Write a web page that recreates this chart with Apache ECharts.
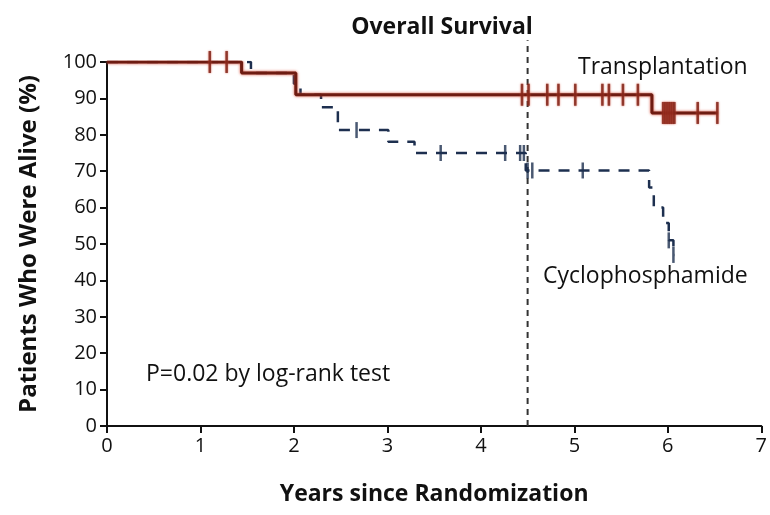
<!DOCTYPE html>
<html>
<head>
<meta charset="utf-8">
<script src="https://cdn.jsdelivr.net/npm/echarts@6/dist/echarts.min.js"></script>
<style>
  html, body { margin: 0; padding: 0; background: #fff; }
  #main { width: 770px; height: 515px; }
</style>
</head>
<body>
<div id="main"></div>
<script>
// Kaplan-Meier steps (years, % alive)
var txTimes = [0, 1.44, 2.02, 5.83];
var txSurv = [100, 97, 91, 86];
var txEnd = 6.53;
var txCensor = [1.1, 1.28, 4.44, 4.51, 4.71, 4.83, 5.01, 5.3, 5.37, 5.52, 5.68,
  5.95, 5.97, 5.99, 6.01, 6.03, 6.05, 6.07, 6.32, 6.53];

var cyTimes = [0, 1.54, 2.0, 2.07, 2.29, 2.47, 3.01, 3.29, 4.48, 5.8, 5.85, 5.95, 6.01, 6.06];
var cySurv = [100, 97, 94, 91, 87.6, 81.3, 78.1, 75, 70.2, 65.5, 60, 55.8, 51, 47];
var cyEnd = 6.07;
var cyCensor = [2.67, 3.57, 4.26, 4.42, 4.46, 4.5, 4.55, 5.09, 6.01, 6.06];

var cutoff = 4.5; // dashed reference line
var xTicks = [0, 1, 2, 3, 4, 5, 6, 7];
var yTicks = [0, 10, 20, 30, 40, 50, 60, 70, 80, 90, 100];

var FONT = "'Open Sans', 'DejaVu Sans', sans-serif";

function stepData(times, surv, end) {
  var d = [];
  for (var i = 0; i < times.length; i++) d.push([times[i], surv[i]]);
  d.push([end, surv[surv.length - 1]]);
  return d;
}
function survAt(times, surv, t) {
  var v = surv[0];
  for (var i = 0; i < times.length; i++) {
    if (times[i] <= t) v = surv[i];
  }
  return v;
}
function censorData(times, surv, list) {
  return list.map(function (t) { return [t, survAt(times, surv, t)]; });
}

var myChart = echarts.init(document.getElementById("main"), null, { renderer: "canvas" });

var axisCommon = {
  axisLine: { show: true, onZero: false, lineStyle: { color: "#111", width: 2 } },
  axisTick: { show: true, length: 7, lineStyle: { color: "#111", width: 2 } },
  splitLine: { show: false }
};
var nameStyle = { fontFamily: FONT, fontSize: 23, fontWeight: "bold", color: "#111" };

var option = {
  backgroundColor: "#fff",
  animation: false,
  title: {
    text: "Overall Survival",
    left: 437,
    top: 11,
    textAlign: "center",
    textStyle: { fontFamily: FONT, fontSize: 23, fontWeight: "bold", color: "#111" }
  },
  grid: { left: 107, right: 5, top: 62, bottom: 89 },
  xAxis: Object.assign({
    type: "value",
    min: 0,
    max: 7,
    interval: 1,
    name: "Years since Randomization",
    nameLocation: "middle",
    nameGap: 57,
    nameTextStyle: nameStyle
  }, axisCommon, {
    axisLabel: {
      color: "#111", fontSize: 20, fontFamily: FONT, margin: 10,
      customValues: xTicks
    }
  }),
  yAxis: Object.assign({
    type: "value",
    min: 0,
    max: 100,
    interval: 10,
    name: "Patients Who Were Alive (%)",
    nameLocation: "middle",
    nameGap: 66,
    nameTextStyle: Object.assign({}, nameStyle, { fontSize: 24 })
  }, axisCommon, {
    axisLabel: {
      color: "#111", fontSize: 20, fontFamily: FONT, margin: 10,
      customValues: yTicks
    }
  }),
  series: [
    {
      name: "cutoff",
      type: "line",
      data: [[cutoff, 0], [cutoff, 106]],
      symbol: "none",
      clip: false,
      lineStyle: { color: "#333", width: 2, type: [6, 5] },
      silent: true
    },
    {
      name: "Cyclophosphamide",
      type: "line",
      step: "end",
      data: stepData(cyTimes, cySurv, cyEnd),
      symbol: "none",
      lineStyle: { color: "#1d2f4f", width: 2.5, type: [11, 9] },
      z: 3
    },
    {
      name: "Cyclophosphamide censored",
      type: "scatter",
      data: censorData(cyTimes, cySurv, cyCensor),
      symbol: "rect",
      symbolSize: [2.5, 16],
      itemStyle: { color: "#1d2f4f" },
      z: 3
    },
    {
      name: "Transplantation",
      type: "line",
      step: "end",
      data: stepData(txTimes, txSurv, txEnd),
      symbol: "none",
      lineStyle: { color: "#6e1c12", width: 3, shadowColor: "#d44a35", shadowBlur: 3 },
      z: 4
    },
    {
      name: "Transplantation censored",
      type: "scatter",
      data: censorData(txTimes, txSurv, txCensor),
      symbol: "rect",
      symbolSize: [2.5, 22],
      itemStyle: { color: "#7a2115", shadowColor: "#d44a35", shadowBlur: 2 },
      z: 4
    }
  ],
  graphic: [
    {
      type: "text",
      left: 578,
      top: 56,
      style: { text: "Transplantation", font: "23px " + FONT, fill: "#111" }
    },
    {
      type: "text",
      left: 543,
      top: 265,
      style: { text: "Cyclophosphamide", font: "23px " + FONT, fill: "#111" }
    },
    {
      type: "text",
      left: 146,
      top: 363,
      style: { text: "P=0.02 by log-rank test", font: "23px " + FONT, fill: "#111" }
    }
  ]
};

option && myChart.setOption(option);
</script>
</body>
</html>
